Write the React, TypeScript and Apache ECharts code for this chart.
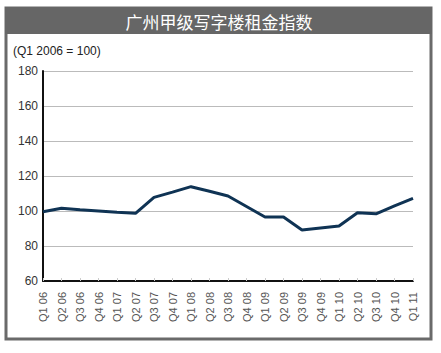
import React, { useEffect, useRef } from "react";
import * as echarts from "echarts";

const title = "广州甲级写字楼租金指数";
const subtitle = "(Q1 2006 = 100)";
const categories = [
  "Q1 06", "Q2 06", "Q3 06", "Q4 06",
  "Q1 07", "Q2 07", "Q3 07", "Q4 07",
  "Q1 08", "Q2 08", "Q3 08", "Q4 08",
  "Q1 09", "Q2 09", "Q3 09", "Q4 09",
  "Q1 10", "Q2 10", "Q3 10", "Q4 10",
  "Q1 11",
];
const rentIndex = [
  99.6, 101.6, 100.7, 100, 99.3, 98.7, 107.8, 110.8, 113.9, 111.3, 108.6, 102.6,
  96.6, 96.6, 89.2, 90.3, 91.4, 99, 98.4, 102.9, 107.2,
];
const yMin = 60;
const yMax = 180;
const yStep = 20;

export default function App() {
  const ref = useRef<HTMLDivElement>(null);
  useEffect(() => {
    if (!ref.current) return;
    const chart = echarts.init(ref.current, null, { renderer: "svg" });
    chart.setOption({
      animation: false,
      backgroundColor: "#ffffff",
      textStyle: { fontFamily: "Liberation Sans, Arial, sans-serif" },
      graphic: [
        {
          type: "rect",
          shape: { x: 6, y: 8, width: 425, height: 331 },
          style: { fill: "#ffffff", stroke: "#6a6a6a", lineWidth: 3 },
          z: -10,
        },
        {
          type: "rect",
          shape: { x: 5, y: 7, width: 427, height: 27 },
          style: { fill: "#666666" },
          z: -9,
        },
        {
          type: "text",
          x: 219,
          y: 21,
          style: {
            text: title,
            fill: "#ffffff",
            fontSize: 17,
            fontFamily: "Noto Sans CJK SC, sans-serif",
            align: "center",
            verticalAlign: "middle",
          },
        },
        {
          type: "text",
          x: 13,
          y: 51,
          style: {
            text: subtitle,
            fill: "#222222",
            fontSize: 12,
            fontFamily: "Liberation Sans, Arial, sans-serif",
            align: "left",
            verticalAlign: "middle",
          },
        },
      ],
      grid: { left: 43, right: 28, top: 71, bottom: 72, containLabel: false },
      xAxis: {
        type: "category",
        data: categories,
        boundaryGap: false,
        axisLine: { show: true, lineStyle: { color: "#111111", width: 2 } },
        axisTick: {
          show: true,
          inside: true,
          length: 3,
          lineStyle: { color: "#cccccc" },
        },
        axisLabel: {
          rotate: 90,
          interval: 0,
          fontSize: 11,
          color: "#555555",
          margin: 11,
        },
        splitLine: { show: false },
      },
      yAxis: {
        type: "value",
        min: yMin,
        max: yMax,
        interval: yStep,
        axisLine: { show: true, lineStyle: { color: "#111111", width: 2 } },
        axisTick: { show: false },
        axisLabel: { fontSize: 12, color: "#333333", margin: 5 },
        splitLine: { show: true, lineStyle: { color: "#bbbbbb", width: 1 } },
      },
      series: [
        {
          type: "line",
          data: rentIndex,
          symbol: "none",
          lineStyle: { color: "#0f3354", width: 3 },
        },
      ],
    });
    return () => chart.dispose();
  }, []);
  return (
    <div
      ref={ref}
      style={{ position: "fixed", left: 0, top: 0, width: 441, height: 353 }}
    />
  );
}
